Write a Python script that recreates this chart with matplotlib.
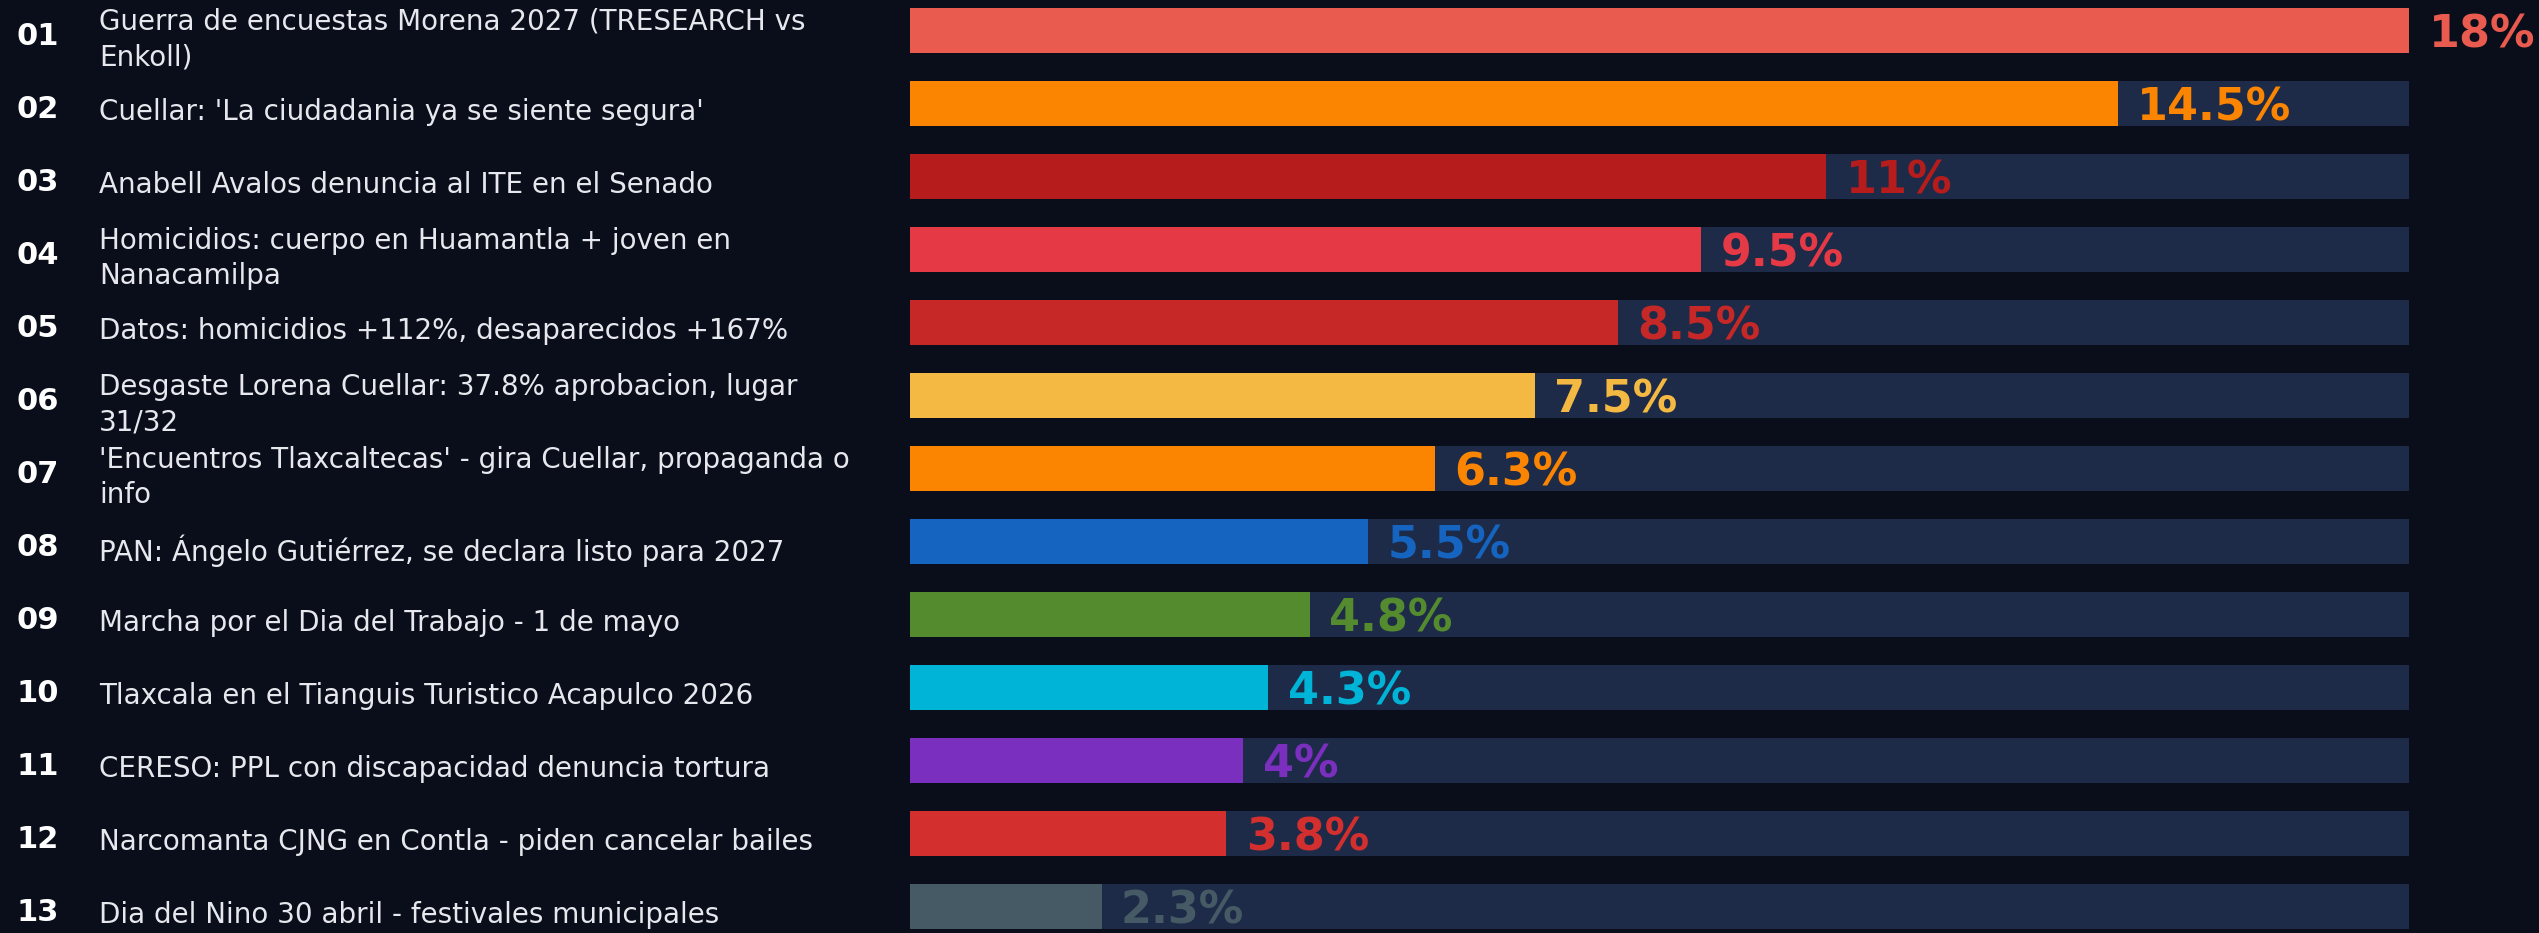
import matplotlib
matplotlib.use("Agg")
from matplotlib import pyplot as plt
from matplotlib.transforms import blended_transform_factory

BG = "#0a0e1a"
TRACK = "#1e2b48"
MAX_VALUE = 18

ranks = ["01", "02", "03", "04", "05", "06", "07", "08", "09", "10", "11", "12", "13"]
topics = [
  "Guerra de encuestas Morena 2027 (TRESEARCH vs\nEnkoll)",
  "Cuellar: 'La ciudadania ya se siente segura'",
  "Anabell Avalos denuncia al ITE en el Senado",
  "Homicidios: cuerpo en Huamantla + joven en\nNanacamilpa",
  "Datos: homicidios +112%, desaparecidos +167%",
  "Desgaste Lorena Cuellar: 37.8% aprobacion, lugar\n31/32",
  "'Encuentros Tlaxcaltecas' - gira Cuellar, propaganda o\ninfo",
  "PAN: Ángelo Gutiérrez, se declara listo para 2027",
  "Marcha por el Dia del Trabajo - 1 de mayo",
  "Tlaxcala en el Tianguis Turistico Acapulco 2026",
  "CERESO: PPL con discapacidad denuncia tortura",
  "Narcomanta CJNG en Contla - piden cancelar bailes",
  "Dia del Nino 30 abril - festivales municipales",
]
shares = [18, 14.5, 11, 9.5, 8.5, 7.5, 6.3, 5.5, 4.8, 4.3, 4, 3.8, 2.3]
share_labels = ["18%", "14.5%", "11%", "9.5%", "8.5%", "7.5%", "6.3%", "5.5%",
                "4.8%", "4.3%", "4%", "3.8%", "2.3%"]
colors = ["#e85b4e", "#fb8500", "#b71c1c", "#e63946", "#c62828", "#f4b942",
          "#fb8500", "#1565c0", "#558b2f", "#00b4d8", "#7b2fbe", "#d32f2f", "#455a64"]

W, H = 2539, 933
fig = plt.figure(figsize=(W / 100, H / 100), dpi=100, facecolor=BG)

# axes covers the bar track horizontally, full height vertically
left = 910 / W
width = (2409 - 910) / W
ax = fig.add_axes([left, 0, width, 1])
ax.set_facecolor(BG)

rows = list(range(len(shares)))
row_px = 73
first_center = 30.5
ax.set_ylim((H - first_center) / row_px, -first_center / row_px)
ax.set_xlim(0, MAX_VALUE)

bar_h = 45 / row_px
ax.barh(rows, [MAX_VALUE] * len(rows), height=bar_h, color=TRACK, zorder=1)
ax.barh(rows, shares, height=bar_h, color=colors, zorder=2)

for i, (v, lab, c) in enumerate(zip(shares, share_labels, colors)):
  ax.annotate(lab, xy=(v, i), xytext=(14, -3), textcoords="offset points",
              ha="left", va="center", color=c, fontsize=32,
              fontweight="bold", family="DejaVu Sans", zorder=3)

trans = blended_transform_factory(fig.transFigure, ax.transData)
for i, (rank, topic) in enumerate(zip(ranks, topics)):
  ax.text(16 / W, i + 6 / row_px, rank, transform=trans, ha="left", va="center",
          color="white", fontsize=22, fontweight="bold", family="DejaVu Sans")
  ax.text(99 / W, i + 9 / row_px, topic, transform=trans, ha="left", va="center",
          color="#e6e8ee", fontsize=20, family="DejaVu Sans", linespacing=1.36)

ax.axis("off")
fig.savefig("out.png", dpi=100, facecolor=BG)
